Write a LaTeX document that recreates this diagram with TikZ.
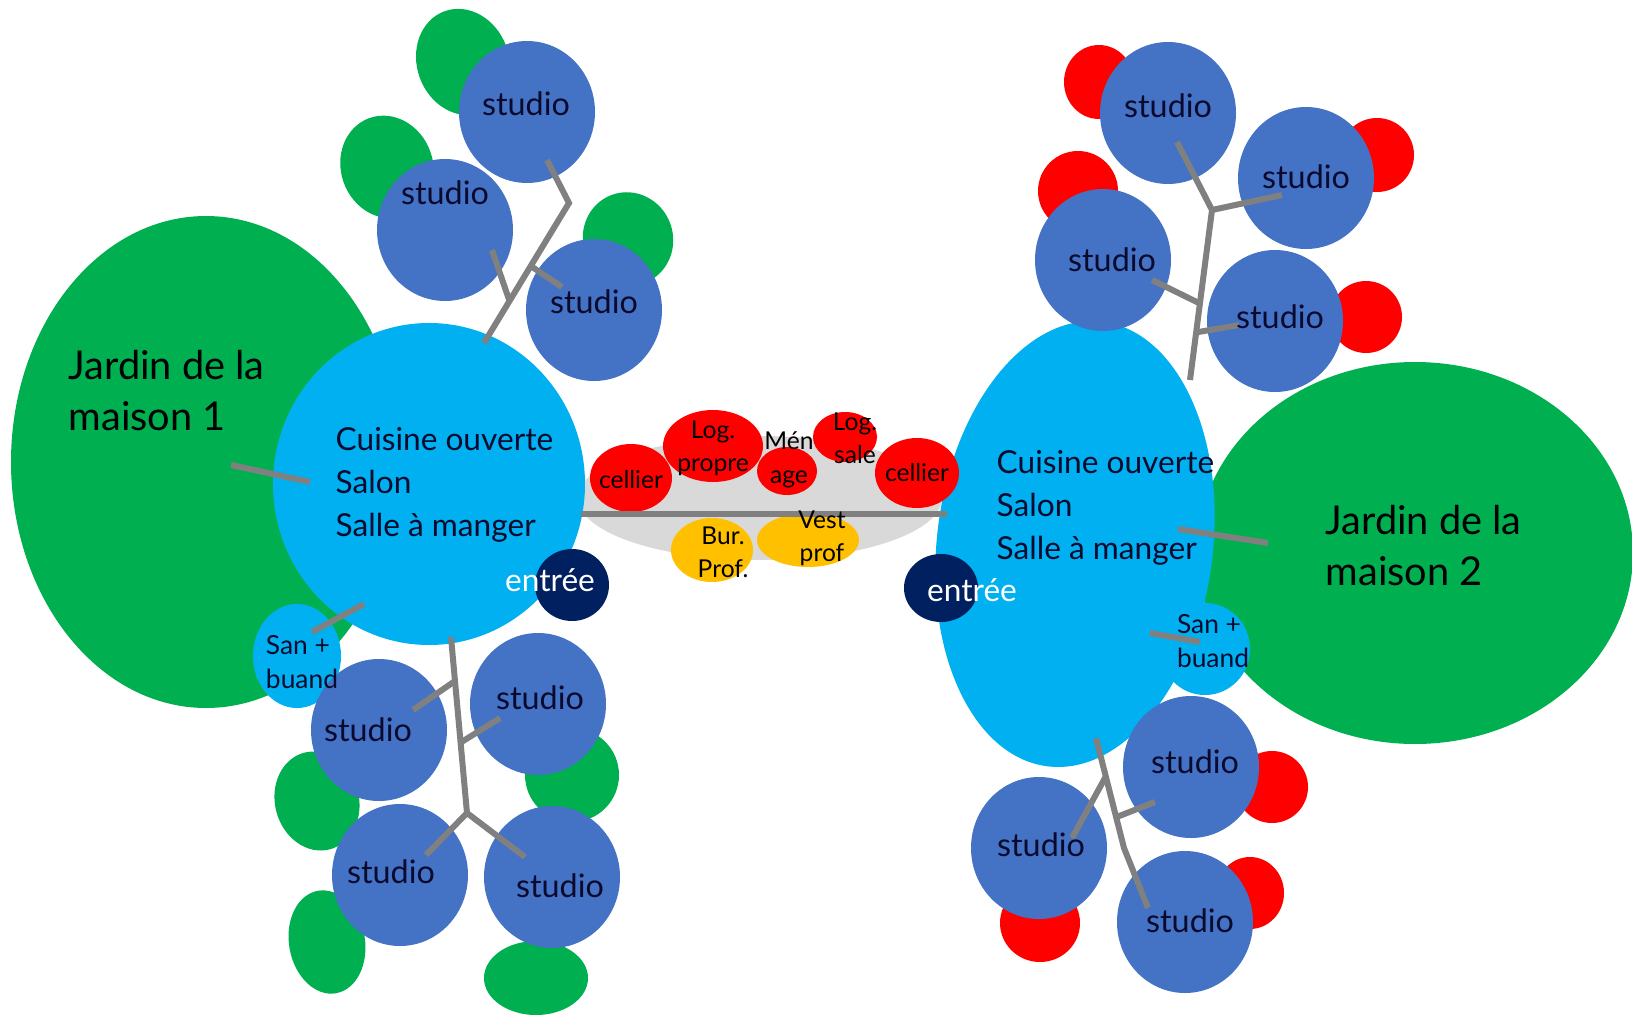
\documentclass[tikz,border=0pt]{standalone}
\usepackage{fontspec}
\setmainfont{Lato}
\usetikzlibrary{shapes.geometric,calc}
\definecolor{stblue}{HTML}{4472C4}
\definecolor{grn}{HTML}{00B050}
\definecolor{cyn}{HTML}{00B0F0}
\definecolor{navy}{HTML}{002060}
\definecolor{rd}{HTML}{FF0000}
\definecolor{ylw}{HTML}{FFC000}
\definecolor{lgray}{HTML}{808080}
\definecolor{bgray}{HTML}{D9D9D9}
\definecolor{txtdark}{HTML}{0A0A2E}
\begin{document}
\begin{tikzpicture}[x=0.1mm,y=-0.1mm,
  bub/.style n args={3}{ellipse, fill=#1, draw=none, minimum width=#2*0.2mm, minimum height=#3*0.2mm, inner sep=0pt, outer sep=0pt},
  studiobox/.style={bub={stblue}{68}{71}},
  lnk/.style={draw=lgray, line width=0.6mm},
  stxt/.style={font=\fontsize{9.2}{11}\selectfont, text=txtdark, inner sep=0pt},
  bigtxt/.style={font=\fontsize{11.3}{14.5}\selectfont, text=black, align=left, anchor=west, inner sep=0pt},
  roomtxt/.style={font=\fontsize{9}{12.3}\selectfont, text=txtdark, align=left, anchor=west, inner sep=0pt},
  smalltxt/.style={font=\fontsize{7}{9.5}\selectfont, text=black, align=center, inner sep=0pt},
  santxt/.style={font=\fontsize{7.5}{9.7}\selectfont, text=txtdark, align=left, inner sep=0pt},
  entxt/.style={font=\fontsize{9}{11}\selectfont, text=white, inner sep=0pt}]
\fill[white] (0,0) rectangle (1632,1018);
\useasboundingbox (0,0) rectangle (1632,1018);

% central zone
\node[bub={bgray}{182}{62}] (zone) at (760,498) {};

% green blobs (left studios)
\node[bub={grn}{46}{54}, rotate=20] (g1) at (463,62) {};
\node[bub={grn}{46}{52}, rotate=20] (g2) at (387,167) {};
\node[bub={grn}{45}{47}, rotate=20] (g3) at (628,239) {};
\node[bub={grn}{42}{50}, rotate=15] (g4) at (317,801) {};
\node[bub={grn}{47}{47}] (g5) at (572,775) {};
\node[bub={grn}{38}{52}, rotate=10] (g6) at (327,942) {};
\node[bub={grn}{52}{37}] (g7) at (536,978) {};
% red blobs (right studios)
\node[bub={rd}{35}{37}] (r1) at (1099,82) {};
\node[bub={rd}{37}{37}] (r2) at (1377,155) {};
\node[bub={rd}{40}{40}] (r3) at (1078,191) {};
\node[bub={rd}{36}{36}] (r4) at (1366,317) {};
\node[bub={rd}{36}{36}] (r5) at (1272,787) {};
\node[bub={rd}{34}{36}] (r6) at (1250,893) {};
\node[bub={rd}{40}{39}] (r7) at (1040,923) {};

% gardens
\node[bub={grn}{195}{246}] (j1) at (206,462) {};
\node[bub={grn}{218}{191}] (j2) at (1415,553) {};

% living rooms
\node[bub={cyn}{156}{161}] (c1) at (429,484) {};
\node[bub={cyn}{138}{224}, rotate=-7] (c2) at (1075,544) {};

% san + buand
\node[bub={cyn}{44}{52}] (sb1) at (297,656) {};

% studios left
\node[studiobox] (s1) at (527,112) {};
\node[studiobox] (s2) at (445,230) {};
\node[studiobox] (s3) at (594,310) {};
\node[studiobox] (s4) at (379,730) {};
\node[studiobox] (s5) at (538,704) {};
\node[studiobox] (s6) at (400,875) {};
\node[studiobox] (s7) at (552,877) {};
% studios right
\node[studiobox] (t1) at (1168,113) {};
\node[studiobox] (t2) at (1306,178) {};
\node[studiobox] (t3) at (1103,260) {};
\node[studiobox] (t4) at (1275,321) {};
\node[studiobox] (u1) at (1191,767) {};
\node[studiobox] (u2) at (1039,848) {};
\node[studiobox] (u3) at (1185,922) {};

\node[bub={cyn}{45}{46}] (sb2) at (1205,649) {};

% entrances
\node[bub={navy}{37}{36}] (e1) at (572,585) {};
\node[bub={navy}{37}{34}] (e2) at (941,588) {};

% central rooms
\node[bub={rd}{41}{34}] (cel1) at (631,478) {};
\node[bub={rd}{50}{36}] (lp) at (713,446) {};
\node[bub={rd}{30}{24}] (men) at (787,471) {};
\node[bub={rd}{32}{25}] (ls) at (845,437) {};
\node[bub={rd}{42}{35}] (cel2) at (917,473) {};
\node[bub={ylw}{41}{32}] (bur) at (712,550) {};
\node[bub={ylw}{51}{27}] (vest) at (808,540) {};

% connectors
\coordinate (barL) at (581,514);
\coordinate (barR) at (947,514);
\draw[lnk] (barL) -- (barR);

\coordinate (lj1a) at (231,465); \coordinate (lj1b) at (310,482);
\draw[lnk] (lj1a) -- (lj1b);
\coordinate (ls1a) at (312,632); \coordinate (ls1b) at (364,604);
\draw[lnk] (ls1a) -- (ls1b);
\coordinate (lj2a) at (1178,529); \coordinate (lj2b) at (1268,543);
\draw[lnk] (lj2a) -- (lj2b);
\coordinate (ls2a) at (1150,633); \coordinate (ls2b) at (1200,642);
\draw[lnk] (ls2a) -- (ls2b);

% top-left tree
\coordinate (tlA) at (484,343);
\coordinate (tlB) at (569,203);
\coordinate (tlC) at (547,160);
\coordinate (tlE) at (492,250);
\coordinate (tlG) at (562,287);
\draw[lnk] (tlA) -- (tlB) -- (tlC);
\draw[lnk] ($(tlA)!0.3!(tlB)$) -- (tlE);
\draw[lnk] ($(tlA)!0.55!(tlB)$) -- (tlG);

% bottom-left tree
\coordinate (blA) at (451,637);
\coordinate (blB) at (467,813);
\coordinate (blC) at (413,710);
\coordinate (blD) at (500,718);
\coordinate (blE) at (426,855);
\coordinate (blF) at (525,857);
\draw[lnk] (blA) -- (blB);
\draw[lnk] ($(blA)!0.25!(blB)$) -- (blC);
\draw[lnk] ($(blA)!0.6!(blB)$) -- (blD);
\draw[lnk] (blE) -- (blB) -- (blF);

% top-right tree
\coordinate (trA) at (1190,380);
\coordinate (trB) at (1212,210);
\coordinate (trC) at (1177,142);
\coordinate (trD) at (1282,195);
\coordinate (trE) at (1152,280);
\coordinate (trF) at (1239,325);
\draw[lnk] (trA) -- (trB) -- (trC);
\draw[lnk] (trB) -- (trD);
\draw[lnk] ($(trA)!0.45!(trB)$) -- (trE);
\draw[lnk] ($(trA)!0.28!(trB)$) -- (trF);

% bottom-right tree
\coordinate (brA) at (1096,738);
\coordinate (brB) at (1124,848);
\coordinate (brC) at (1072,838);
\coordinate (brD) at (1155,802);
\coordinate (brE) at (1148,908);
\draw[lnk] (brA) -- (brB) -- (brE);
\draw[lnk] ($(brA)!0.35!(brB)$) -- (brC);
\draw[lnk] ($(brA)!0.72!(brB)$) -- (brD);

% texts
\node[bigtxt] (j1t) at (68,391) {Jardin de la\\maison 1};
\node[bigtxt] (j2t) at (1325,546) {Jardin de la\\maison 2};
\node[roomtxt] (c1t) at (335,485) {Cuisine ouverte\\Salon\\Salle à manger};
\node[roomtxt] (c2t) at (996,508) {Cuisine ouverte\\Salon\\Salle à manger};
\node[entxt] (e1t) at (550,580) {entrée};
\node[entxt] (e2t) at (972,590) {entrée};
\node[santxt] (sb1t) at (302,662) {San +\\buand};
\node[santxt] (sb2t) at (1213,641) {San +\\buand};

\node[stxt] at (526,104) {studio};
\node[stxt] at (445,193) {studio};
\node[stxt] at (594,302) {studio};
\node[stxt] at (368,730) {studio};
\node[stxt] at (540,698) {studio};
\node[stxt] at (391,872) {studio};
\node[stxt] at (560,886) {studio};
\node[stxt] at (1168,106) {studio};
\node[stxt] at (1306,177) {studio};
\node[stxt] at (1112,260) {studio};
\node[stxt] at (1280,317) {studio};
\node[stxt] at (1195,762) {studio};
\node[stxt] at (1041,845) {studio};
\node[stxt] at (1190,921) {studio};

\node[smalltxt] at (631,480) {cellier};
\node[smalltxt] at (713,448) {Log.\\propre};
\node[smalltxt] at (789,460) {Mén\\age};
\node[smalltxt] at (855,438) {Log.\\sale};
\node[smalltxt] at (917,473) {cellier};
\node[smalltxt] at (723,552) {Bur.\\Prof.};
\node[smalltxt] at (822,538) {Vest\\prof};
\end{tikzpicture}
\end{document}
